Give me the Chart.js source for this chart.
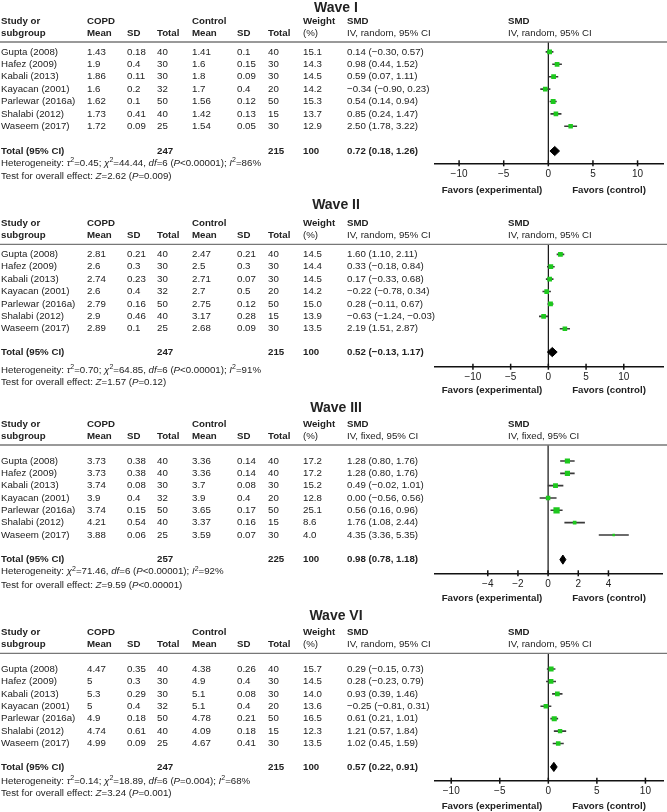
<!DOCTYPE html>
<html>
<head>
<meta charset="utf-8">
<script src="https://cdn.jsdelivr.net/npm/chart.js@4.4.0/dist/chart.umd.min.js"></script>
<style>
  body { margin: 0; background: #fff; }
  #page { position: relative; width: 667px; height: 812px; overflow: hidden; }
  #page canvas { position: absolute; left: 0; }
</style>
</head>
<body>
<div id="page"></div>
<script>
const studies = ['Gupta (2008)', 'Hafez (2009)', 'Kabali (2013)', 'Kayacan (2001)', 'Parlewar (2016a)', 'Shalabi (2012)', 'Waseem (2017)']

// Wave I
const copdMean1 = [1.43, 1.9, 1.86, 1.6, 1.62, 1.73, 1.72]
const copdSD1 = [0.18, 0.4, 0.11, 0.2, 0.1, 0.41, 0.09]
const copdN1 = [40, 30, 30, 32, 50, 40, 25]
const ctrlMean1 = [1.41, 1.6, 1.8, 1.7, 1.56, 1.42, 1.54]
const ctrlSD1 = [0.1, 0.15, 0.09, 0.4, 0.12, 0.13, 0.05]
const ctrlN1 = [40, 30, 30, 20, 50, 15, 30]
const weight1 = [15.1, 14.3, 14.5, 14.2, 15.3, 13.7, 12.9]
const smd1 = [0.14, 0.98, 0.59, -0.34, 0.54, 0.85, 2.50]
const lo1 = [-0.30, 0.44, 0.07, -0.90, 0.14, 0.24, 1.78]
const hi1 = [0.57, 1.52, 1.11, 0.23, 0.94, 1.47, 3.22]
const total1 = { copdN: 247, ctrlN: 215, weight: 100, smd: 0.72, lo: 0.18, hi: 1.26 }
const ticks1 = [-10, -5, 0, 5, 10]

// Wave II
const copdMean2 = [2.81, 2.6, 2.74, 2.6, 2.79, 2.9, 2.89]
const copdSD2 = [0.21, 0.3, 0.23, 0.4, 0.16, 0.46, 0.1]
const copdN2 = [40, 30, 30, 32, 50, 40, 25]
const ctrlMean2 = [2.47, 2.5, 2.71, 2.7, 2.75, 3.17, 2.68]
const ctrlSD2 = [0.21, 0.3, 0.07, 0.5, 0.12, 0.28, 0.09]
const ctrlN2 = [40, 30, 30, 20, 50, 15, 30]
const weight2 = [14.5, 14.4, 14.5, 14.2, 15.0, 13.9, 13.5]
const smd2 = [1.60, 0.33, 0.17, -0.22, 0.28, -0.63, 2.19]
const lo2 = [1.10, -0.18, -0.33, -0.78, -0.11, -1.24, 1.51]
const hi2 = [2.11, 0.84, 0.68, 0.34, 0.67, -0.03, 2.87]
const total2 = { copdN: 247, ctrlN: 215, weight: 100, smd: 0.52, lo: -0.13, hi: 1.17 }
const ticks2 = [-10, -5, 0, 5, 10]

// Wave III
const copdMean3 = [3.73, 3.73, 3.74, 3.9, 3.74, 4.21, 3.88]
const copdSD3 = [0.38, 0.38, 0.08, 0.4, 0.15, 0.54, 0.06]
const copdN3 = [40, 40, 30, 32, 50, 40, 25]
const ctrlMean3 = [3.36, 3.36, 3.7, 3.9, 3.65, 3.37, 3.59]
const ctrlSD3 = [0.14, 0.14, 0.08, 0.4, 0.17, 0.16, 0.07]
const ctrlN3 = [40, 40, 30, 20, 50, 15, 30]
const weight3 = [17.2, 17.2, 15.2, 12.8, 25.1, 8.6, 4.0]
const smd3 = [1.28, 1.28, 0.49, 0.00, 0.56, 1.76, 4.35]
const lo3 = [0.80, 0.80, -0.02, -0.56, 0.16, 1.08, 3.36]
const hi3 = [1.76, 1.76, 1.01, 0.56, 0.96, 2.44, 5.35]
const total3 = { copdN: 257, ctrlN: 225, weight: 100, smd: 0.98, lo: 0.78, hi: 1.18 }
const ticks3 = [-4, -2, 0, 2, 4]

// Wave VI
const copdMean4 = [4.47, 5, 5.3, 5, 4.9, 4.74, 4.99]
const copdSD4 = [0.35, 0.3, 0.29, 0.4, 0.18, 0.61, 0.09]
const copdN4 = [40, 30, 30, 32, 50, 40, 25]
const ctrlMean4 = [4.38, 4.9, 5.1, 5.1, 4.78, 4.09, 4.67]
const ctrlSD4 = [0.26, 0.4, 0.08, 0.4, 0.21, 0.18, 0.41]
const ctrlN4 = [40, 30, 30, 20, 50, 15, 30]
const weight4 = [15.7, 14.5, 14.0, 13.6, 16.5, 12.3, 13.5]
const smd4 = [0.29, 0.28, 0.93, -0.25, 0.61, 1.21, 1.02]
const lo4 = [-0.15, -0.23, 0.39, -0.81, 0.21, 0.57, 0.45]
const hi4 = [0.73, 0.79, 1.46, 0.31, 1.01, 1.84, 1.59]
const total4 = { copdN: 247, ctrlN: 215, weight: 100, smd: 0.57, lo: 0.22, hi: 0.91 }
const ticks4 = [-10, -5, 0, 5, 10]

// *x* = italic, ^2 = superscript
const het1 = 'Heterogeneity: *τ*^2=0.45; *χ*^2=44.44, *df*=6 (*P*<0.00001); *I*^2=86%'
const test1 = 'Test for overall effect: *Z*=2.62 (*P*=0.009)'
const het2 = 'Heterogeneity: *τ*^2=0.70; *χ*^2=64.85, *df*=6 (*P*<0.00001); *I*^2=91%'
const test2 = 'Test for overall effect: *Z*=1.57 (*P*=0.12)'
const het3 = 'Heterogeneity: *χ*^2=71.46, *df*=6 (*P*<0.00001); *I*^2=92%'
const test3 = 'Test for overall effect: *Z*=9.59 (*P*<0.00001)'
const het4 = 'Heterogeneity: *τ*^2=0.14; *χ*^2=18.89, *df*=6 (*P*=0.004); *I*^2=68%'
const test4 = 'Test for overall effect: *Z*=3.24 (*P*=0.001)'

const FAMILY = '"Liberation Sans", Arial, Helvetica, sans-serif'
const FS = 9.7
const TEXT = '#222'
const GREEN = '#1ec81e'
const col = { study: 1, copdMean: 87, copdSD: 127, copdN: 157, ctrlMean: 192, ctrlSD: 237, ctrlN: 268, weight: 303, smd: 347, plot: 508 }

const fmt = v => (v < 0 ? '\u2212' : '') + Math.abs(v).toFixed(2)
const ciText = (e, l, h) => `${fmt(e)} (${fmt(l)}, ${fmt(h)})`

const drawRich = (ctx, str, x, y) => {
    str.split(/(\*[^*]+\*|\^2)/).filter(Boolean).forEach(p => {
        let s = p, font = `${FS}px ${FAMILY}`, dy = 0
        if (p[0] === '*') { s = p.slice(1, -1); font = `italic ${FS}px ${FAMILY}` }
        else if (p === '^2') { s = '2'; font = `7px ${FAMILY}`; dy = -3 }
        ctx.font = font
        ctx.fillText(s, x, y + dy)
        x += ctx.measureText(s).width
    })
}

const tablePlugin = (w, L) => ({
    id: 'forestTable',
    beforeDatasetsDraw(chart) {
        const { ctx, chartArea: a, scales: { x } } = chart
        const x0 = x.getPixelForValue(0)
        ctx.save()
        ctx.strokeStyle = '#111'
        ctx.lineWidth = 1.2
        ctx.beginPath()
        ctx.moveTo(x0, a.top)
        ctx.lineTo(x0, a.bottom)
        ctx.stroke()
        ctx.restore()
    },
    afterDraw(chart) {
        const { ctx, chartArea: a, scales: { x, y } } = chart
        const rowY = i => y.getPixelForValue(i)
        ctx.save()
        ctx.fillStyle = TEXT
        ctx.textBaseline = 'middle'

        // header rule
        ctx.strokeStyle = '#777'
        ctx.lineWidth = 1.3
        ctx.beginPath()
        ctx.moveTo(0, a.top)
        ctx.lineTo(chart.width, a.top)
        ctx.stroke()

        // tick marks across the axis
        ctx.strokeStyle = '#111'
        ctx.lineWidth = 1.5
        x.ticks.forEach(t => {
            const px = x.getPixelForValue(t.value)
            ctx.beginPath()
            ctx.moveTo(px, a.bottom - 3)
            ctx.lineTo(px, a.bottom + 3)
            ctx.stroke()
        })

        // title
        ctx.font = `bold 14px ${FAMILY}`
        ctx.textAlign = 'center'
        ctx.fillText(w.title, 336, L.titleY)

        ctx.textAlign = 'left'
        const put = (s, cx, cy, bold) => {
            ctx.font = `${bold ? 'bold ' : ''}${FS}px ${FAMILY}`
            ctx.fillText(String(s), cx, cy)
        }
        const h1 = a.top - 20.5, h2 = a.top - 9
        put('Study or', col.study, h1, true)
        put('subgroup', col.study, h2, true)
        put('COPD', col.copdMean, h1, true)
        put('Mean', col.copdMean, h2, true)
        put('SD', col.copdSD, h2, true)
        put('Total', col.copdN, h2, true)
        put('Control', col.ctrlMean, h1, true)
        put('Mean', col.ctrlMean, h2, true)
        put('SD', col.ctrlSD, h2, true)
        put('Total', col.ctrlN, h2, true)
        put('Weight', col.weight, h1, true)
        put('(%)', col.weight, h2)
        put('SMD', col.smd, h1, true)
        put(w.method, col.smd, h2)
        put('SMD', col.plot, h1, true)
        put(w.method, col.plot, h2)

        studies.forEach((s, i) => {
            const ry = rowY(i)
            put(s, col.study, ry)
            put(w.copdMean[i], col.copdMean, ry)
            put(w.copdSD[i], col.copdSD, ry)
            put(w.copdN[i], col.copdN, ry)
            put(w.ctrlMean[i], col.ctrlMean, ry)
            put(w.ctrlSD[i], col.ctrlSD, ry)
            put(w.ctrlN[i], col.ctrlN, ry)
            put(w.weight[i].toFixed(1), col.weight, ry)
            put(ciText(w.smd[i], w.lo[i], w.hi[i]), col.smd, ry)
        })

        const t = w.total, ty = rowY(L.totalRow)
        put('Total (95% CI)', col.study, ty, true)
        put(t.copdN, col.copdN, ty, true)
        put(t.ctrlN, col.ctrlN, ty, true)
        put(t.weight, col.weight, ty, true)
        put(ciText(t.smd, t.lo, t.hi), col.smd, ty, true)

        drawRich(ctx, w.het, col.study, rowY(L.hetRow))
        drawRich(ctx, w.test, col.study, rowY(L.testRow))

        ctx.font = `bold ${FS}px ${FAMILY}`
        ctx.textAlign = 'center'
        ctx.fillText('Favors (experimental)', 492, L.favorsY)
        ctx.fillText('Favors (control)', 609, L.favorsY)
        ctx.restore()
    }
})

const renderWave = (w, L) => {
    const canvas = document.createElement('canvas')
    canvas.width = 667
    canvas.height = L.height
    canvas.style.top = L.top + 'px'
    document.getElementById('page').appendChild(canvas)

    const markers = {
        data: w.smd.map((v, i) => ({ x: v, y: i })),
        pointStyle: 'rect',
        pointRadius: w.weight.map(p => 1.25 * Math.sqrt(p) / Math.SQRT2),
        backgroundColor: GREEN,
        borderWidth: 0,
        order: 0
    }
    const ciLines = w.smd.map((v, i) => ({
        data: [{ x: w.lo[i], y: i }, { x: w.hi[i], y: i }],
        showLine: true,
        borderColor: '#3a3a3a',
        borderWidth: 1.6,
        pointRadius: 0,
        order: 1
    }))
    const t = w.total, r = L.totalRow, dh = 0.37
    const diamond = {
        data: [{ x: t.lo, y: r }, { x: t.smd, y: r - dh }, { x: t.hi, y: r }, { x: t.smd, y: r + dh }, { x: t.lo, y: r }],
        showLine: true,
        fill: 'shape',
        backgroundColor: '#000',
        borderColor: '#000',
        borderWidth: 1,
        pointRadius: 0,
        order: 2
    }

    new Chart(canvas, {
        type: 'scatter',
        data: { datasets: [markers, ...ciLines, diamond] },
        options: {
            responsive: false,
            animation: false,
            events: [],
            layout: { padding: { left: 435, right: 0, top: L.hline, bottom: L.height - L.axis - 20 } },
            plugins: { legend: { display: false }, tooltip: { enabled: false } },
            scales: {
                x: {
                    type: 'linear',
                    position: 'bottom',
                    min: L.xMin,
                    max: L.xMax,
                    afterBuildTicks: s => { s.ticks = w.ticks.map(v => ({ value: v })) },
                    afterFit: s => { s.height = 20 },
                    grid: { display: false, drawTicks: false },
                    border: { display: true, color: '#111', width: 1.5 },
                    ticks: {
                        font: { family: FAMILY, size: 10 },
                        color: TEXT,
                        padding: 5,
                        maxRotation: 0,
                        autoSkip: false,
                        callback: v => (v < 0 ? '\u2212' : '') + Math.abs(v)
                    }
                },
                y: { type: 'linear', reverse: true, min: L.yMin, max: L.yMax, display: false }
            }
        },
        plugins: [tablePlugin(w, L)]
    })
}

renderWave(
    { title: 'Wave I', method: 'IV, random, 95% CI', copdMean: copdMean1, copdSD: copdSD1, copdN: copdN1, ctrlMean: ctrlMean1, ctrlSD: ctrlSD1, ctrlN: ctrlN1, weight: weight1, smd: smd1, lo: lo1, hi: hi1, total: total1, ticks: ticks1, het: het1, test: test1 },
    { top: 0, height: 198, hline: 42, axis: 163.3, yMin: -0.8, yMax: 8.99, totalRow: 8, hetRow: 8.97, testRow: 10.02, titleY: 8.5, favorsY: 190.7, xMin: -12.7, xMax: 12.85 }
)
renderWave(
    { title: 'Wave II', method: 'IV, random, 95% CI', copdMean: copdMean2, copdSD: copdSD2, copdN: copdN2, ctrlMean: ctrlMean2, ctrlSD: ctrlSD2, ctrlN: ctrlN2, weight: weight2, smd: smd2, lo: lo2, hi: hi2, total: total2, ticks: ticks2, het: het2, test: test2 },
    { top: 198, height: 200, hline: 46.3, axis: 168.7, yMin: -0.81, yMax: 9.06, totalRow: 7.88, hetRow: 9.33, testRow: 10.32, titleY: 7.5, favorsY: 192, xMin: -15.03, xMax: 15.2 }
)
renderWave(
    { title: 'Wave III', method: 'IV, fixed, 95% CI', copdMean: copdMean3, copdSD: copdSD3, copdN: copdN3, ctrlMean: ctrlMean3, ctrlSD: ctrlSD3, ctrlN: ctrlN3, weight: weight3, smd: smd3, lo: lo3, hi: hi3, total: total3, ticks: ticks3, het: het3, test: test3 },
    { top: 396, height: 211, hline: 49, axis: 177.3, yMin: -1.3, yMax: 9.11, totalRow: 8, hetRow: 8.98, testRow: 10.06, titleY: 11.7, favorsY: 202, xMin: -7.5, xMax: 7.59 }
)
renderWave(
    { title: 'Wave VI', method: 'IV, random, 95% CI', copdMean: copdMean4, copdSD: copdSD4, copdN: copdN4, ctrlMean: ctrlMean4, ctrlSD: ctrlSD4, ctrlN: ctrlN4, weight: weight4, smd: smd4, lo: lo4, hi: hi4, total: total4, ticks: ticks4, het: het4, test: test4 },
    { top: 601, height: 211, hline: 52.3, axis: 179.7, yMin: -1.27, yMax: 9.0, totalRow: 7.89, hetRow: 9.05, testRow: 10.04, titleY: 15, favorsY: 205.7, xMin: -11.67, xMax: 11.81 }
)
</script>
</body>
</html>
